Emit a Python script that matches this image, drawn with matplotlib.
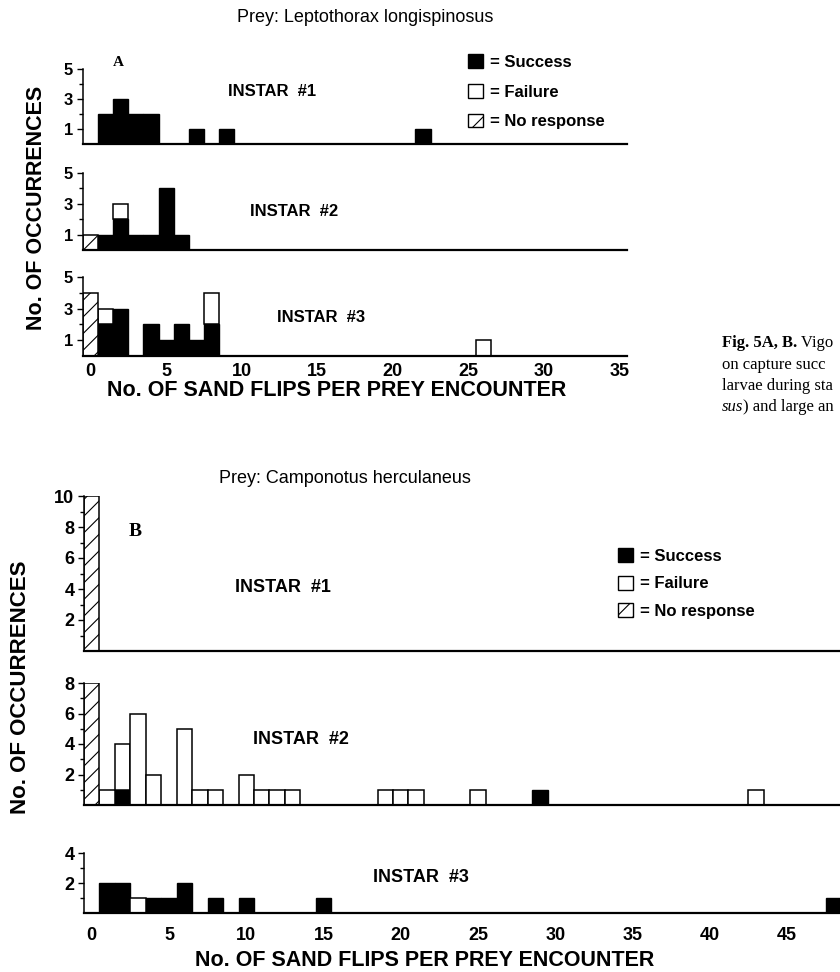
import matplotlib
matplotlib.use("Agg")
import matplotlib.pyplot as plt
from matplotlib.patches import Patch
from matplotlib.ticker import FixedLocator

plt.rcParams["font.family"] = ["Liberation Sans", "DejaVu Sans"]
plt.rcParams["font.weight"] = "bold"
plt.rcParams["hatch.linewidth"] = 0.8

W, H = 840, 972  # figure size in pixels (dpi 100)

# --- data: no. of sand flips per encounter -> no. of occurrences ---
# Panel A, prey: Leptothorax longispinosus
a1_succ_x = [1, 2, 3, 4, 7, 9, 22]
a1_succ_n = [2, 3, 2, 2, 1, 1, 1]
a1_fail_x, a1_fail_n = [], []
a1_nr_x, a1_nr_n = [], []

a2_succ_x = [1, 2, 3, 4, 5, 6]
a2_succ_n = [1, 2, 1, 1, 4, 1]
a2_fail_x, a2_fail_n = [2], [1]
a2_nr_x, a2_nr_n = [0], [1]

a3_succ_x = [1, 2, 4, 5, 6, 7, 8]
a3_succ_n = [2, 3, 2, 1, 2, 1, 2]
a3_fail_x = [1, 8, 26]
a3_fail_n = [1, 2, 1]
a3_nr_x, a3_nr_n = [0], [4]

# Panel B, prey: Camponotus herculaneus
b1_succ_x, b1_succ_n = [], []
b1_fail_x, b1_fail_n = [], []
b1_nr_x, b1_nr_n = [0], [10]

b2_succ_x = [2, 29]
b2_succ_n = [1, 1]
b2_fail_x = [1, 2, 3, 4, 6, 7, 8, 10, 11, 12, 13, 19, 20, 21, 25, 43]
b2_fail_n = [1, 3, 6, 2, 5, 1, 1, 2, 1, 1, 1, 1, 1, 1, 1, 1]
b2_nr_x, b2_nr_n = [0], [8]

b3_succ_x = [1, 2, 4, 5, 6, 8, 10, 15, 48]
b3_succ_n = [2, 2, 1, 1, 2, 1, 1, 1, 1]
b3_fail_x, b3_fail_n = [3], [1]
b3_nr_x, b3_nr_n = [], []

fig = plt.figure(figsize=(W / 100, H / 100), dpi=100)
fig.patch.set_facecolor("white")


def px_axes(x0, x1, ytop, ybot):
    return fig.add_axes([x0 / W, 1 - ybot / H, (x1 - x0) / W, (ybot - ytop) / H])


def draw_hist(ax, sx, sn, fx, fn, nx, nn):
    if sx:
        ax.bar(sx, sn, width=1, color="black", edgecolor="black", lw=1)
    below = dict(zip(sx, sn))
    if fx:
        ax.bar(fx, fn, width=1, bottom=[below.get(x, 0) for x in fx],
               color="white", edgecolor="black", lw=1.1)
    if nx:
        ax.bar(nx, nn, width=1, color="white", edgecolor="black",
               hatch="//", lw=1.1)


def style(ax, xlim, ymax, major, minor, fs):
    ax.set_xlim(*xlim)
    ax.set_ylim(0, ymax)
    for s in ["top", "right"]:
        ax.spines[s].set_visible(False)
    ax.spines["left"].set_linewidth(1.1)
    ax.spines["bottom"].set_linewidth(1.6)
    ax.yaxis.set_major_locator(FixedLocator(major))
    ax.yaxis.set_minor_locator(FixedLocator(minor))
    ax.tick_params(axis="y", which="major", direction="out", length=4,
                   width=1, pad=3, labelsize=fs)
    ax.tick_params(axis="y", which="minor", direction="out", length=3, width=1)
    ax.set_xticks([])
    ax.patch.set_alpha(0)


# ---------------- Panel A ----------------
a_xlim = (-0.5, 35.5)
axA1 = px_axes(83, 627, 69, 144)
axA2 = px_axes(83, 627, 173, 250)
axA3 = px_axes(83, 627, 277, 356)
draw_hist(axA1, a1_succ_x, a1_succ_n, a1_fail_x, a1_fail_n, a1_nr_x, a1_nr_n)
draw_hist(axA2, a2_succ_x, a2_succ_n, a2_fail_x, a2_fail_n, a2_nr_x, a2_nr_n)
draw_hist(axA3, a3_succ_x, a3_succ_n, a3_fail_x, a3_fail_n, a3_nr_x, a3_nr_n)
for ax in (axA1, axA2, axA3):
    style(ax, a_xlim, 5, [1, 3, 5], [2, 4], 12)
axA3.set_xticks(range(0, 36, 5))
axA3.tick_params(axis="x", length=0, pad=5, labelsize=13)

# ---------------- Panel B ----------------
b_xlim = (-0.5, 50.5)
bx0 = 84
bx1 = bx0 + 51 * 15.45
axB1 = px_axes(bx0, bx1, 496, 651)
axB2 = px_axes(bx0, bx1, 683, 805)
axB3 = px_axes(bx0, bx1, 853, 913)
draw_hist(axB1, b1_succ_x, b1_succ_n, b1_fail_x, b1_fail_n, b1_nr_x, b1_nr_n)
draw_hist(axB2, b2_succ_x, b2_succ_n, b2_fail_x, b2_fail_n, b2_nr_x, b2_nr_n)
draw_hist(axB3, b3_succ_x, b3_succ_n, b3_fail_x, b3_fail_n, b3_nr_x, b3_nr_n)
style(axB1, b_xlim, 10, [2, 4, 6, 8, 10], [1, 3, 5, 7, 9], 13)
style(axB2, b_xlim, 8, [2, 4, 6, 8], [1, 3, 5, 7], 13)
style(axB3, b_xlim, 4, [2, 4], [1, 3], 13)
axB3.set_xticks(range(0, 46, 5))
axB3.tick_params(axis="x", length=0, pad=10, labelsize=13)

# ---------------- text ----------------
def ftext(x, y, s, **kw):
    return fig.text(x / W, 1 - y / H, s, **kw)


ftext(365, 18, "Prey: Leptothorax longispinosus", ha="center", va="center",
      fontsize=13, fontweight="normal")
ftext(345, 478, "Prey: Camponotus herculaneus", ha="center", va="center",
      fontsize=13, fontweight="normal")

ftext(118, 63, "A", ha="center", va="center", fontsize=11,
      family="Liberation Serif", fontweight="bold")
ftext(135, 532, "B", ha="center", va="center", fontsize=14,
      family="Liberation Serif", fontweight="bold")

for x, y, s, fs in [(228, 92, "INSTAR  #1", 12), (250, 212, "INSTAR  #2", 12),
                    (277, 317, "INSTAR  #3", 12), (235, 587, "INSTAR  #1", 13),
                    (253, 740, "INSTAR  #2", 13), (373, 877, "INSTAR  #3", 13)]:
    ftext(x, y, s, ha="left", va="center", fontsize=fs)

ftext(37, 208, "No. OF OCCURRENCES", rotation=90, ha="center", va="center",
      fontsize=15.5)
ftext(21, 687, "No. OF OCCURRENCES", rotation=90, ha="center", va="center",
      fontsize=16)
ftext(337, 390, "No. OF SAND FLIPS PER PREY ENCOUNTER", ha="center",
      va="center", fontsize=15.5)
ftext(425, 960, "No. OF SAND FLIPS PER PREY ENCOUNTER", ha="center",
      va="center", fontsize=15.5)

# legends
handles = [Patch(facecolor="black", edgecolor="black"),
           Patch(facecolor="white", edgecolor="black", lw=1),
           Patch(facecolor="white", edgecolor="black", lw=1, hatch="//")]
labels = ["= Success", "= Failure", "= No response"]
for ax, (lx, ly), sp in [(axA1, (468, 54), 0.85), (axB1, (618, 548), 0.72)]:
    ax.legend(handles, labels, loc="upper left", frameon=False,
              bbox_to_anchor=(lx / W, 1 - ly / H), bbox_transform=fig.transFigure,
              borderpad=0, borderaxespad=0, handlelength=0.9, handleheight=0.9,
              handletextpad=0.4, labelspacing=sp, fontsize=12)

# caption fragment at right edge (cropped in the source)
cx = 722
t = ftext(cx, 343, "Fig. 5A, B.", family="Liberation Serif", fontweight="bold",
          fontsize=12, va="center")
fig.canvas.draw()
r = fig.canvas.get_renderer()
w = t.get_window_extent(r).width
ftext(cx + w, 343, " Vigo", family="Liberation Serif", fontweight="normal",
      fontsize=12, va="center")
ftext(cx, 365, "on capture succ", family="Liberation Serif", fontweight="normal",
      fontsize=12, va="center")
ftext(cx, 386, "larvae during sta", family="Liberation Serif", fontweight="normal",
      fontsize=12, va="center")
t2 = ftext(cx, 407, "sus", family="Liberation Serif", fontweight="normal",
           style="italic", fontsize=12, va="center")
w2 = t2.get_window_extent(r).width
ftext(cx + w2, 407, ") and large an", family="Liberation Serif",
      fontweight="normal", fontsize=12, va="center")

fig.savefig("out.png", dpi=100, facecolor="white")
